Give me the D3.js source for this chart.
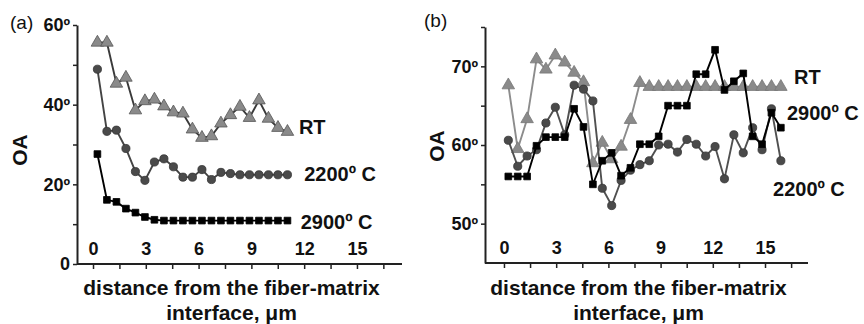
<!DOCTYPE html>
<html>
<head>
<meta charset="utf-8">
<script src="https://cdn.jsdelivr.net/npm/d3@7"></script>
<style>
  body { margin: 0; background: #fff; }
  svg { display: block; font-family: "Liberation Sans", Arial, sans-serif; }
  .tick text { font-weight: bold; fill: #111; }
  .domain, .tick line { stroke: #222; }
</style>
</head>
<body>
<svg id="chart" width="864" height="324"></svg>
<script>
// distance from the interface, um (same sampling in both panels)
const dist = [0.25, 0.79, 1.33, 1.87, 2.41, 2.95, 3.49, 4.03, 4.57, 5.11,
              5.65, 6.19, 6.73, 7.27, 7.81, 8.35, 8.89, 9.43, 9.97, 10.51,
              11.05, 11.59, 12.13, 12.67, 13.21, 13.75, 14.29, 14.83, 15.37, 15.91];

// panel (a)
const rtA = [55.6, 55.6, 45.3, 46.8, 38.6, 40.9, 41.3, 39.6, 38.1, 37.8, 33.8,
             31.7, 32.1, 35.3, 37.4, 39.5, 36.7, 41.1, 36.5, 34.2, 33.2];
const t2200A = [48.9, 33.3, 33.6, 29.0, 23.2, 21.0, 25.6, 26.4, 24.4, 21.8, 21.8,
                23.7, 21.2, 23.0, 22.7, 22.4, 22.4, 22.4, 22.4, 22.4, 22.4];
const t2900A = [27.6, 16.1, 15.6, 13.9, 12.9, 11.8, 11.1, 10.9, 10.9, 10.9, 10.9,
                10.9, 10.9, 10.9, 10.9, 10.9, 10.9, 10.9, 10.9, 10.9, 10.9];

// panel (b)
const rtB = [67.6, 59.5, 63.3, 70.9, 69.6, 71.4, 70.5, 69.2, 68.0, 57.7,
             60.3, 58.2, 59.8, 63.2, 67.9, 67.4, 67.4, 67.4, 67.4, 67.4,
             67.4, 67.4, 67.4, 67.4, 67.4, 67.4, 67.4, 67.4, 67.4, 67.4];
const t2900B = [56.0, 56.0, 56.0, 59.9, 61.0, 61.0, 61.0, 64.6, 62.3, 55.0,
                58.0, 59.0, 56.1, 57.1, 60.1, 60.1, 61.1, 65.0, 65.0, 65.0,
                69.0, 69.0, 72.1, 67.0, 68.1, 69.1, 61.1, 60.1, 64.1, 62.2];
const t2200B = [60.6, 57.3, 58.6, 59.4, 62.8, 64.8, 61.3, 67.6, 67.1, 65.6,
                54.5, 52.3, 55.5, 56.8, 57.5, 58.0, 60.0, 60.1, 59.1, 60.7,
                60.1, 58.6, 59.8, 55.7, 61.3, 59.0, 62.2, 59.4, 64.6, 58.0];

// ticks
const xTicks = [0, 1.5, 3, 4.5, 6, 7.5, 9, 10.5, 12, 13.5, 15, 16.5];
const xTickLabels = [0, 3, 6, 9, 12, 15];
const yTicksA = [0, 10, 20, 30, 40, 50, 60];
const yLabelsA = [0, 20, 40, 60];
const yTicksB = [50, 55, 60, 65, 70, 75];
const yLabelsB = [50, 60, 70];

const svg = d3.select("#chart");

function drawPanel(cfg) {
    const g = svg.append("g");
    const x = d3.scaleLinear().domain(cfg.xDomain).range(cfg.xRange);
    const y = d3.scaleLinear().domain(cfg.yDomain).range(cfg.yRange);

    // x axis: ticks downward, labels above the line
    const xAxis = g.append("g")
        .attr("transform", `translate(0,${cfg.yRange[0]})`)
        .call(d3.axisBottom(x).tickValues(xTicks).tickSizeInner(5).tickSizeOuter(0)
            .tickFormat(d => xTickLabels.includes(d) ? d : ""));
    xAxis.select(".domain").attr("d", `M${cfg.xRange[0]},0H${cfg.xRange[1]}`).attr("stroke-width", 2);
    xAxis.selectAll(".tick line").attr("stroke-width", 1.5);
    xAxis.selectAll(".tick text").attr("y", -9).attr("dy", 0).attr("font-size", 18);

    const yAxis = g.append("g")
        .attr("transform", `translate(${cfg.xRange[0]},0)`)
        .call(d3.axisLeft(y).tickValues(cfg.yTicks).tickSizeInner(4).tickSizeOuter(0).tickPadding(3)
            .tickFormat(d => cfg.yLabels.includes(d) ? (d === 0 ? "0" : d + "º") : ""));
    yAxis.select(".domain").attr("stroke-width", 2);
    yAxis.selectAll(".tick line").attr("stroke-width", 1.5);
    yAxis.selectAll(".tick text").attr("font-size", 18);

    const line = d3.line().x((d, i) => x(dist[i])).y(d => y(d));

    cfg.series.forEach(s => {
        g.append("path")
            .datum(s.values)
            .attr("fill", "none")
            .attr("stroke", s.line)
            .attr("stroke-width", 1.9)
            .attr("d", line);
        g.selectAll(null)
            .data(s.values)
            .enter()
            .append("path")
            .attr("transform", (d, i) => `translate(${x(dist[i])},${y(d)})`)
            .attr("d", d3.symbol().type(s.symbol).size(s.size)())
            .attr("fill", s.fill)
            .attr("stroke", s.stroke)
            .attr("stroke-width", 0.8);
        g.append("text")
            .attr("x", x(s.labelPos[0]))
            .attr("y", y(s.labelPos[1]))
            .attr("dy", "0.35em")
            .attr("font-size", 20)
            .attr("font-weight", "bold")
            .attr("fill", "#111")
            .text(s.label);
    });

    // panel letter
    g.append("text")
        .attr("x", cfg.letterPos[0]).attr("y", cfg.letterPos[1])
        .attr("font-size", 19).attr("fill", "#111")
        .text(cfg.letter);

    // y title
    g.append("text")
        .attr("transform", `translate(${cfg.yTitlePos[0]},${cfg.yTitlePos[1]}) rotate(-90)`)
        .attr("text-anchor", "middle")
        .attr("dy", "0.35em")
        .attr("font-size", 21).attr("font-weight", "bold").attr("fill", "#111")
        .text("OA");

    // x title, two lines
    const cx = (cfg.xRange[0] + cfg.xRange[1]) / 2 - 8;
    g.append("text")
        .attr("x", cx).attr("y", 295)
        .attr("text-anchor", "middle")
        .attr("font-size", 21).attr("font-weight", "bold").attr("fill", "#111")
        .text("distance from the fiber-matrix");
    g.append("text")
        .attr("x", cx).attr("y", 320)
        .attr("text-anchor", "middle")
        .attr("font-size", 21).attr("font-weight", "bold").attr("fill", "#111")
        .text("interface, μm");
}

drawPanel({
    xDomain: [-0.91, 17.56], xRange: [77, 402],
    yDomain: [0, 60], yRange: [264, 25],
    yTicks: yTicksA, yLabels: yLabelsA,
    letter: "(a)", letterPos: [10, 29],
    yTitlePos: [20, 150],
    series: [
        { values: rtA, symbol: d3.symbolTriangle, size: 68, fill: "#8a8a8a", stroke: "#555", line: "#3a3a3a",
          label: "RT", labelPos: [11.7, 34.4] },
        { values: t2200A, symbol: d3.symbolCircle, size: 52, fill: "#4a4a4a", stroke: "#333", line: "#444",
          label: "2200º C", labelPos: [12.0, 22.6] },
        { values: t2900A, symbol: d3.symbolSquare, size: 45, fill: "#000", stroke: "#000", line: "#000",
          label: "2900º C", labelPos: [11.8, 10.5] }
    ]
});

drawPanel({
    xDomain: [-1.09, 17.47], xRange: [485, 808],
    yDomain: [45, 75], yRange: [263, 27],
    yTicks: yTicksB, yLabels: yLabelsB,
    letter: "(b)", letterPos: [424, 27],
    yTitlePos: [437, 146],
    series: [
        { values: rtB, symbol: d3.symbolTriangle, size: 68, fill: "#8a8a8a", stroke: "#777", line: "#8c8c8c",
          label: "RT", labelPos: [16.67, 68.7] },
        { values: t2200B, symbol: d3.symbolCircle, size: 52, fill: "#4a4a4a", stroke: "#333", line: "#505050",
          label: "2200º C", labelPos: [15.46, 54.4] },
        { values: t2900B, symbol: d3.symbolSquare, size: 45, fill: "#000", stroke: "#000", line: "#000",
          label: "2900º C", labelPos: [16.26, 64.1] }
    ]
});
</script>
</body>
</html>
